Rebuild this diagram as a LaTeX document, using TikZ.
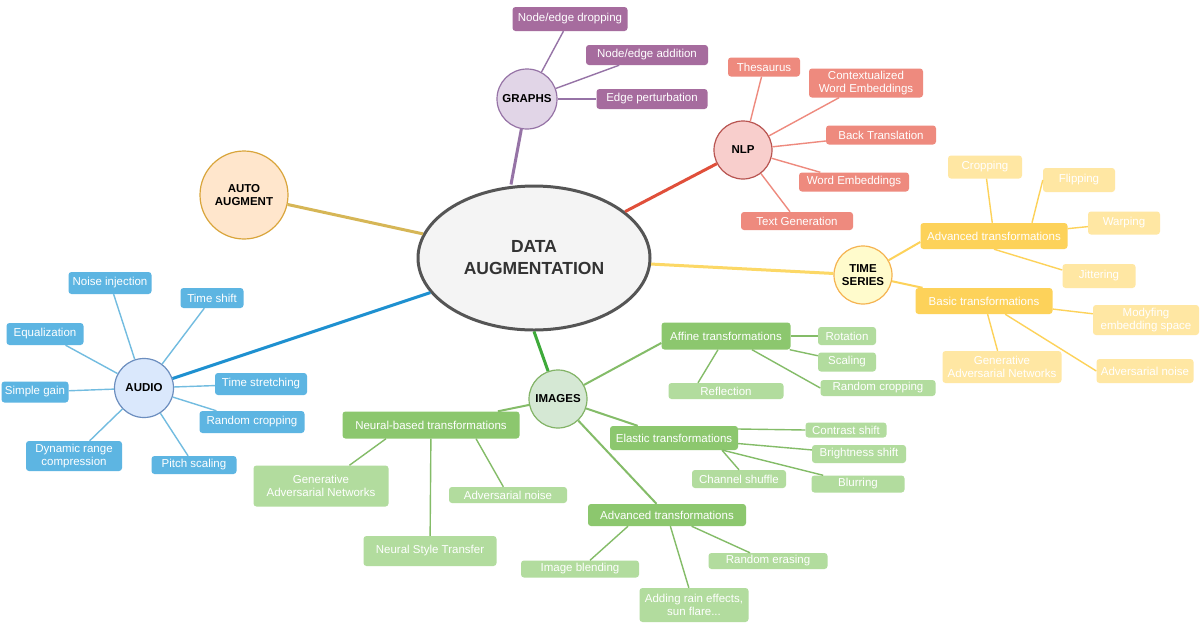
\documentclass[tikz,border=0pt]{standalone}
\usepackage{fontspec}
\setmainfont{Liberation Sans}
\usetikzlibrary{shapes.geometric}
\definecolor{cdark}{HTML}{555555}
\definecolor{ctext}{HTML}{333333}
\definecolor{cfill}{HTML}{F4F4F4}
\definecolor{grfill}{HTML}{E1D5E7}
\definecolor{grdraw}{HTML}{9673A6}
\definecolor{grleaf}{HTML}{A66C9E}
\definecolor{nlfill}{HTML}{F8CECC}
\definecolor{nldraw}{HTML}{B85450}
\definecolor{nlleaf}{HTML}{EE8A7E}
\definecolor{nlmain}{HTML}{E04F3A}
\definecolor{aufill}{HTML}{FFE6CC}
\definecolor{audraw}{HTML}{D9A53B}
\definecolor{aumain}{HTML}{D6B656}
\definecolor{tsfill}{HTML}{FFFBCC}
\definecolor{tsdraw}{HTML}{F5B351}
\definecolor{tsmain}{HTML}{FCD866}
\definecolor{tsmid}{HTML}{FDD25A}
\definecolor{tsleaf}{HTML}{FFE7A3}
\definecolor{adfill}{HTML}{DAE8FC}
\definecolor{addraw}{HTML}{6C8EBF}
\definecolor{adleaf}{HTML}{5DB5E2}
\definecolor{adline}{HTML}{72BCE0}
\definecolor{admain}{HTML}{1E90D0}
\definecolor{imfill}{HTML}{D5E8D4}
\definecolor{imdraw}{HTML}{82B366}
\definecolor{immid}{HTML}{8CC76E}
\definecolor{imleaf}{HTML}{B2DC9E}
\definecolor{imline}{HTML}{84BC68}
\definecolor{immain}{HTML}{3EAA3A}
\begin{document}
\begin{tikzpicture}[x=1pt,y=-1pt,
  box/.style={rectangle, rounded corners=3pt, inner sep=1pt, text=white,
    font=\fontsize{11.5}{13.5}\selectfont, align=center},
  sz/.style 2 args={minimum width=#1pt, minimum height=#2pt},
  hub/.style={circle, inner sep=0pt, line width=1.2pt,
    font=\bfseries\fontsize{11.5}{13}\selectfont, align=center, text=black},
  mainline/.style={line width=3pt},
  leafline/.style={line width=1.4pt},
  midline/.style={line width=2pt},
]
\useasboundingbox (0,0) rectangle (1200,630);
\fill[white] (0,0) rectangle (1200,630);

% centre
\node[ellipse, draw=cdark, line width=3pt, fill=cfill, minimum width=232pt,
  minimum height=144pt, inner sep=0pt, text=ctext, align=center,
  font=\bfseries\fontsize{17.5}{22}\selectfont] (da) at (534,258) {DATA\\AUGMENTATION};

% hubs
\node[hub, fill=grfill, draw=grdraw, minimum size=60pt] (gr) at (527,99) {GRAPHS};
\node[hub, fill=nlfill, draw=nldraw, minimum size=58pt] (nl) at (743,150) {NLP};
\node[hub, fill=aufill, draw=audraw, minimum size=88pt] (au) at (244,195) {AUTO\\AUGMENT};
\node[hub, fill=tsfill, draw=tsdraw, minimum size=58pt] (ts) at (863,275) {TIME\\SERIES};
\node[hub, fill=adfill, draw=addraw, minimum size=59pt] (ad) at (144,388) {AUDIO};
\node[hub, fill=imfill, draw=imdraw, minimum size=58pt] (im) at (558,399) {IMAGES};

% main connectors
\draw[mainline, draw=grdraw] (gr) -- ([xshift=-23pt]da.north);
\draw[mainline, draw=nlmain] (nl) -- (da.27.6);
\draw[mainline, draw=aumain] (au) -- (da);
\draw[mainline, draw=tsmain] (ts) -- (da);
\draw[mainline, draw=admain] (ad) -- (da);
\draw[mainline, draw=immain] (im) -- (da.south);

% graphs leaves
\node[box, fill=grleaf, sz={115}{24}] (g1) at (570,19) {Node/edge dropping};
\node[box, fill=grleaf, sz={122}{20}] (g2) at (647,55) {Node/edge addition};
\node[box, fill=grleaf, sz={111}{20}] (g3) at (652,99) {Edge perturbation};
\foreach \n in {g1,g2,g3} \draw[leafline, draw=grdraw] (gr) -- (\n);

% nlp leaves
\node[box, fill=nlleaf, sz={72}{19}] (n1) at (764,67) {Thesaurus};
\node[box, fill=nlleaf, sz={114}{29}] (n2) at (866,83) {Contextualized\\Word Embeddings};
\node[box, fill=nlleaf, sz={110}{19}] (n3) at (881,135) {Back Translation};
\node[box, fill=nlleaf, sz={110}{19}] (n4) at (854,182) {Word Embeddings};
\node[box, fill=nlleaf, sz={112}{18}] (n5) at (797,221) {Text Generation};
\foreach \n in {n1,n2,n3,n4,n5} \draw[leafline, draw=nlleaf] (nl) -- (\n);

% time series
\node[box, fill=tsmid, sz={147}{26}] (ta) at (994,236) {Advanced transformations};
\node[box, fill=tsmid, sz={137}{26}] (tb) at (984,301) {Basic transformations};
\node[box, fill=tsleaf, sz={74}{23}] (t1) at (985,167) {Cropping};
\node[box, fill=tsleaf, sz={72}{24}] (t2) at (1079,180) {Flipping};
\node[box, fill=tsleaf, sz={72}{23}] (t3) at (1124,223) {Warping};
\node[box, fill=tsleaf, sz={73}{24}] (t4) at (1099,276) {Jittering};
\node[box, fill=tsleaf, sz={106}{30}] (t5) at (1146,320) {Modyfing\\embedding space};
\node[box, fill=tsleaf, sz={119}{32}] (t6) at (1002,367) {Generative\\Adversarial Networks};
\node[box, fill=tsleaf, sz={97}{24}] (t7) at (1145,371) {Adversarial noise};
\draw[midline, draw=tsmid] (ts) -- ([yshift=-6pt]ta.west);
\draw[midline, draw=tsmid] (ts) -- (tb);
\draw[leafline, draw=tsmid] (ta) -- (t1);
\draw[leafline, draw=tsmid] ([xshift=38pt]ta.north) -- (t2.west);
\draw[leafline, draw=tsmid] (ta) -- (t3);
\draw[leafline, draw=tsmid] (ta.south) -- ([yshift=6pt]t4.west);
\draw[leafline, draw=tsmid] (tb) -- (t5);
\draw[leafline, draw=tsmid] (tb) -- (t6);
\draw[leafline, draw=tsmid] (tb) -- (t7.west);

% audio
\node[box, fill=adleaf, sz={83}{22}] (a1) at (110,283) {Noise injection};
\node[box, fill=adleaf, sz={63}{20}] (a2) at (212,298) {Time shift};
\node[box, fill=adleaf, sz={77}{22}] (a3) at (45,334) {Equalization};
\node[box, fill=adleaf, sz={67}{21}] (a4) at (35,392) {Simple gain};
\node[box, fill=adleaf, sz={92}{22}] (a5) at (261,384) {Time stretching};
\node[box, fill=adleaf, sz={105}{22}] (a6) at (252,422) {Random cropping};
\node[box, fill=adleaf, sz={96}{30}] (a7) at (74,456) {Dynamic range\\compression};
\node[box, fill=adleaf, sz={85}{18}] (a8) at (194,465) {Pitch scaling};
\foreach \n in {a1,a2,a3,a4,a5,a6,a7,a8} \draw[leafline, draw=adline] (ad) -- (\n);

% images
\node[box, fill=immid, sz={177}{27}] (ib) at (431,425) {Neural-based transformations};
\node[box, fill=immid, sz={129}{27}] (ia) at (726,336) {Affine transformations};
\node[box, fill=immid, sz={128}{24}] (ie) at (674,438) {Elastic transformations};
\node[box, fill=immid, sz={158}{22}] (iv) at (667,515) {Advanced transformations};
\node[box, fill=imleaf, sz={135}{41}] (b1) at (321,486) {Generative\\Adversarial Networks};
\node[box, fill=imleaf, sz={118}{16}] (b2) at (508,495) {Adversarial noise};
\node[box, fill=imleaf, sz={133}{30}] (b3) at (430,551) {Neural Style Transfer};
\node[box, fill=imleaf, sz={58}{18}] (f1) at (847,336) {Rotation};
\node[box, fill=imleaf, sz={58}{19}] (f2) at (847,362) {Scaling};
\node[box, fill=imleaf, sz={115}{16}] (f3) at (878,388) {Random cropping};
\node[box, fill=imleaf, sz={115}{16}] (f4) at (726,391) {Reflection};
\node[box, fill=imleaf, sz={81}{15}] (e1) at (846,430) {Contrast shift};
\node[box, fill=imleaf, sz={94}{18}] (e2) at (859,454) {Brightness shift};
\node[box, fill=imleaf, sz={93}{17}] (e3) at (858,484) {Blurring};
\node[box, fill=imleaf, sz={94}{18}] (e4) at (739,479) {Channel shuffle};
\node[box, fill=imleaf, sz={119}{16}] (v1) at (768,561) {Random erasing};
\node[box, fill=imleaf, sz={109}{34}] (v2) at (694,605) {Adding rain effects,\\sun flare...};
\node[box, fill=imleaf, sz={118}{17}] (v3) at (580,569) {Image blending};

\draw[midline, draw=imline] (im) -- ([yshift=-7pt]ia.west);
\draw[midline, draw=imline] (im) -- (ie);
\draw[midline, draw=imline] (im) -- (iv);
\draw[midline, draw=imline] (im) -- (ib);
\draw[leafline, draw=imline] ([xshift=-45pt]ib.south) -- (b1);
\draw[leafline, draw=imline] (ib) -- (b3);
\draw[leafline, draw=imline] ([xshift=45pt]ib.south) -- (b2);
\draw[leafline, draw=imline] (ia) -- (f1);
\draw[leafline, draw=imline] (ia) -- (f2);
\draw[leafline, draw=imline] ([xshift=26pt]ia.south) -- (f3.west);
\draw[leafline, draw=imline] ([xshift=-8pt]ia.south) -- ([xshift=-28pt]f4.north);
\draw[leafline, draw=imline] ([yshift=9pt]ie.east) -- (e1.west);
\draw[leafline, draw=imline] (ie) -- (e2);
\draw[leafline, draw=imline] (ie) -- (e3);
\draw[leafline, draw=imline] ([xshift=48pt]ie.south) -- (e4.north);
\draw[leafline, draw=imline] ([xshift=-39pt]iv.south) -- ([xshift=10pt]v3.north);
\draw[leafline, draw=imline] (iv) -- (v2);
\draw[leafline, draw=imline] (iv) -- (v1);
\end{tikzpicture}
\end{document}
